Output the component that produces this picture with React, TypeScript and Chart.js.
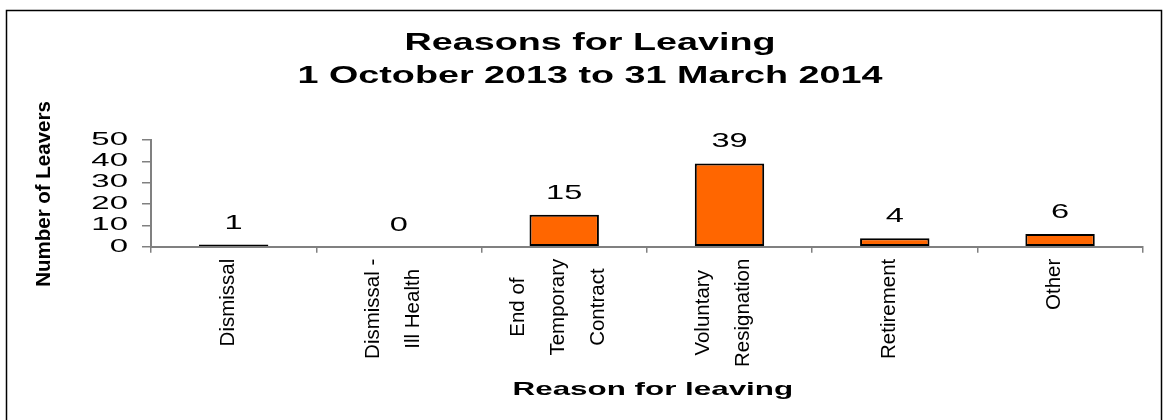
import React, { useEffect, useRef } from 'react';
import { Chart, registerables } from 'chart.js';

Chart.register(...registerables);

const categories: string[][] = [
  ['Dismissal'],
  ['Dismissal -', 'Ill Health'],
  ['End of', 'Temporary', 'Contract'],
  ['Voluntary', 'Resignation'],
  ['Retirement'],
  ['Other'],
];
const leavers: number[] = [1, 0, 15, 39, 4, 6];
const yTicks: number[] = [0, 10, 20, 30, 40, 50];
const titleLines: string[] = ['Reasons for Leaving', '1 October 2013 to 31 March 2014'];
const xTitle = 'Reason for leaving';
const yTitle = 'Number of Leavers';

const FONT = '"Liberation Sans", Arial, Helvetica, sans-serif';

function drawText(
  ctx: CanvasRenderingContext2D,
  s: string,
  x: number,
  y: number,
  font: string,
  sx: number,
  align: CanvasTextAlign,
  rot = 0
) {
  ctx.save();
  ctx.translate(x, y);
  if (rot) ctx.rotate(rot);
  ctx.scale(sx, 1);
  ctx.font = font;
  ctx.fillStyle = '#000000';
  ctx.textAlign = align;
  ctx.textBaseline = 'alphabetic';
  ctx.fillText(s, 0, 0);
  ctx.restore();
}

const textPlugin = {
  id: 'reasonTexts',
  beforeDraw(chart: any) {
    const ctx: CanvasRenderingContext2D = chart.ctx;
    ctx.save();
    ctx.fillStyle = '#ffffff';
    ctx.fillRect(0, 0, chart.width, chart.height);
    ctx.strokeStyle = '#000000';
    ctx.lineWidth = 1.5;
    ctx.strokeRect(6.5, 10.5, 1155, 430);
    ctx.restore();
  },
  afterDraw(chart: any) {
    const ctx: CanvasRenderingContext2D = chart.ctx;
    const xs = chart.scales.x;
    const ys = chart.scales.y;
    const ca = chart.chartArea;

    // Title
    drawText(ctx, titleLines[0], 590, 50, `bold 23px ${FONT}`, 1.64, 'center');
    drawText(ctx, titleLines[1], 590, 83, `bold 23px ${FONT}`, 1.64, 'center');

    // Y tick labels
    yTicks.forEach((v) => {
      drawText(ctx, String(v), ca.left - 23, ys.getPixelForValue(v) + 4.8, `18px ${FONT}`, 1.83, 'right');
    });

    // Data labels
    leavers.forEach((v, i) => {
      const x = xs.getPixelForValue(i);
      const y = ys.getPixelForValue(v);
      drawText(ctx, String(v), x, y - 16, `21px ${FONT}`, 1.55, 'center');
    });

    // X category labels (rotated, multi-line, centred)
    const lf = `20.5px ${FONT}`;
    ctx.save();
    ctx.font = lf;
    categories.forEach((lines, i) => {
      const px = xs.getPixelForValue(i) - 7.5;
      const maxW = Math.max(...lines.map((l) => ctx.measureText(l).width));
      const cy = ys.getPixelForValue(0) + 12 + maxW / 2;
      const n = lines.length;
      lines.forEach((l, j) => {
        const cx = px + (j - (n - 1) / 2) * 40;
        drawText(ctx, l, cx + 7.5, cy, lf, 1, 'center', -Math.PI / 2);
      });
    });
    ctx.restore();

    // Axis titles
    drawText(ctx, xTitle, (ca.left + ca.right) / 2 + 6, 395, `bold 19px ${FONT}`, 1.65, 'center');
    drawText(ctx, yTitle, 50, 194, `bold 20.5px ${FONT}`, 1, 'center', -Math.PI / 2);
  },
};

export default function App() {
  const ref = useRef<HTMLCanvasElement | null>(null);

  useEffect(() => {
    if (!ref.current) return;
    const chart = new Chart(ref.current, {
      type: 'bar',
      data: {
        labels: categories.map((c) => c.join(' ')),
        datasets: [
          {
            data: leavers,
            backgroundColor: '#FF6600',
            borderColor: '#000000',
            borderWidth: 2,
            borderSkipped: false,
            barPercentage: 0.42,
            categoryPercentage: 1,
          },
        ],
      },
      options: {
        animation: false,
        responsive: false,
        devicePixelRatio: 1,
        layout: { padding: { left: 142, right: 23.3, top: 140, bottom: 167.3 } },
        plugins: {
          legend: { display: false },
          title: { display: false },
          tooltip: { enabled: false },
        },
        scales: {
          x: {
            offset: true,
            grid: {
              offset: true,
              drawOnChartArea: false,
              drawTicks: true,
              tickLength: 6,
              color: '#808080',
              lineWidth: 1.5,
            },
            border: { display: true, color: '#808080', width: 2 },
            ticks: { display: false },
          },
          y: {
            min: 0,
            max: 50,
            ticks: { display: false, stepSize: 10 },
            grid: {
              drawOnChartArea: false,
              drawTicks: true,
              tickLength: 9,
              color: '#808080',
              lineWidth: 1.5,
            },
            border: { display: true, color: '#808080', width: 2 },
          },
        },
      },
      plugins: [textPlugin],
    });
    return () => chart.destroy();
  }, []);

  return (
    <div style={{ position: 'absolute', left: 0, top: 0, width: 1166, height: 420 }}>
      <canvas
        ref={ref}
        width={1166}
        height={420}
        style={{ display: 'block', width: '1166px', height: '420px' }}
      />
    </div>
  );
}
